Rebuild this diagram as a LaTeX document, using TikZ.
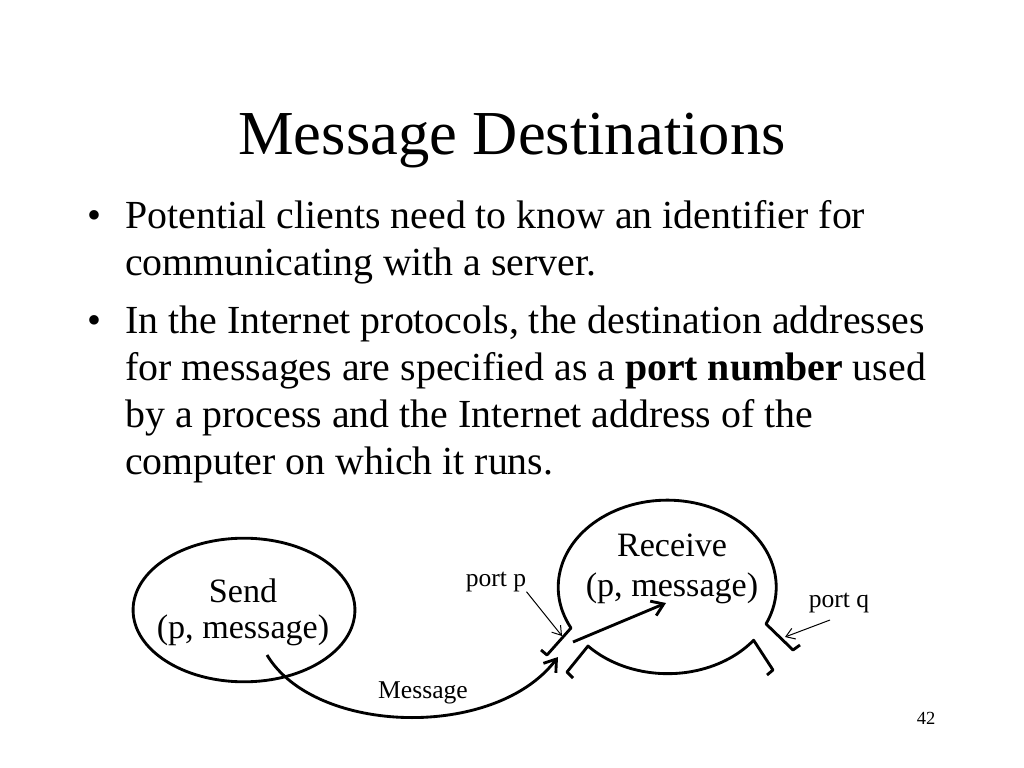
\documentclass[tikz,border=0pt]{standalone}
\usepackage{fontspec}
\setmainfont{Liberation Serif}
\usepackage{tikz}
\usetikzlibrary{arrows.meta, positioning, calc, shapes.geometric}

\begin{document}
\begin{tikzpicture}[x=0.703125pt, y=-0.703125pt,
		txt/.style={inner sep=0pt, anchor=base},
		body/.style={inner sep=0pt, anchor=base west, font=\fontsize{28}{33}\selectfont},
		lbl/.style={inner sep=0pt, anchor=base, font=\fontsize{24}{25}\selectfont},
		small/.style={inner sep=0pt, anchor=base, font=\fontsize{18}{20}\selectfont},
		outl/.style={line width=2pt, line join=round},
		flowarr/.style={line width=2pt, -{Straight Barb[length=8pt, width=11pt, line width=2pt]}},
		thinarr/.style={line width=0.7pt, -{Straight Barb[length=6pt, width=8pt]}}]
	\useasboundingbox (0,0) rectangle (1024,768);
	
	% Title
	\node[txt, font=\fontsize{44}{53}\selectfont] (title) at (512,155) {Message Destinations};
	
	% Bullets
	\node[body] (b1) at (87,229) {•};
	\node[body] (l1) at (125,229) {Potential clients need to know an identifier for};
	\node[body] (l2) at (125,276) {communicating with a server.};
	\node[body] (b2) at (87,333) {•};
	\node[body] (l3) at (125,333) {In the Internet protocols, the destination addresses};
	\node[body] (l4) at (125,380) {for messages are specified as a \textbf{port number} used};
	\node[body] (l5) at (125,427) {by a process and the Internet address of the};
	\node[body] (l6) at (125,474) {computer on which it runs.};
	
	% Sender
	\node[draw, outl, ellipse, inner sep=0pt, minimum width=156pt, minimum height=101pt] (send) at (244,610) {};
	\node[lbl] (sendname) at (243,602) {Send};
	\node[lbl] (sendargs) at (243,638) {(p, message)};
	
	% Receiver with its two ports
	\draw[outl] (541,650) -- (547,655) -- (571,628)
		arc[start angle=152, end angle=385, x radius=109, y radius=87]
		-- (793,650) -- (800,645);
	\draw[outl] (573,678) -- (567,672) -- (588,646)
		arc[start angle=137, end angle=38, x radius=109, y radius=87]
		-- (773,670) -- (767,675);
	\node[lbl] (recvname) at (672,556) {Receive};
	\node[lbl] (recvargs) at (672,596) {(p, message)};
	
	% Port labels
	\node[small] (portp) at (496,586) {port p};
	\node[small] (portq) at (839,607) {port q};
	\coordinate (ptipp) at (562,636);
	\coordinate (qfrom) at (830,620);
	\coordinate (ptipq) at (785,637);
	\draw[thinarr] (portp.south east) -- (ptipp);
	\draw[thinarr] (qfrom) -- (ptipq);
	
	% Message flow
	\coordinate (msgfrom) at (267,655);
	\coordinate (msgin) at (558,657);
	\coordinate (pin) at (573,642);
	\coordinate (pend) at (666,603);
	\draw[flowarr] (msgfrom) .. controls (315,735) and (495,740) .. (msgin);
	\draw[flowarr] (pin) -- (pend);
	\node[small] (msglbl) at (423,698) {Message};
	
	% Page number
	\node[txt, font=\fontsize{13}{15}\selectfont] (pageno) at (926,724) {42};
\end{tikzpicture}
\end{document}
